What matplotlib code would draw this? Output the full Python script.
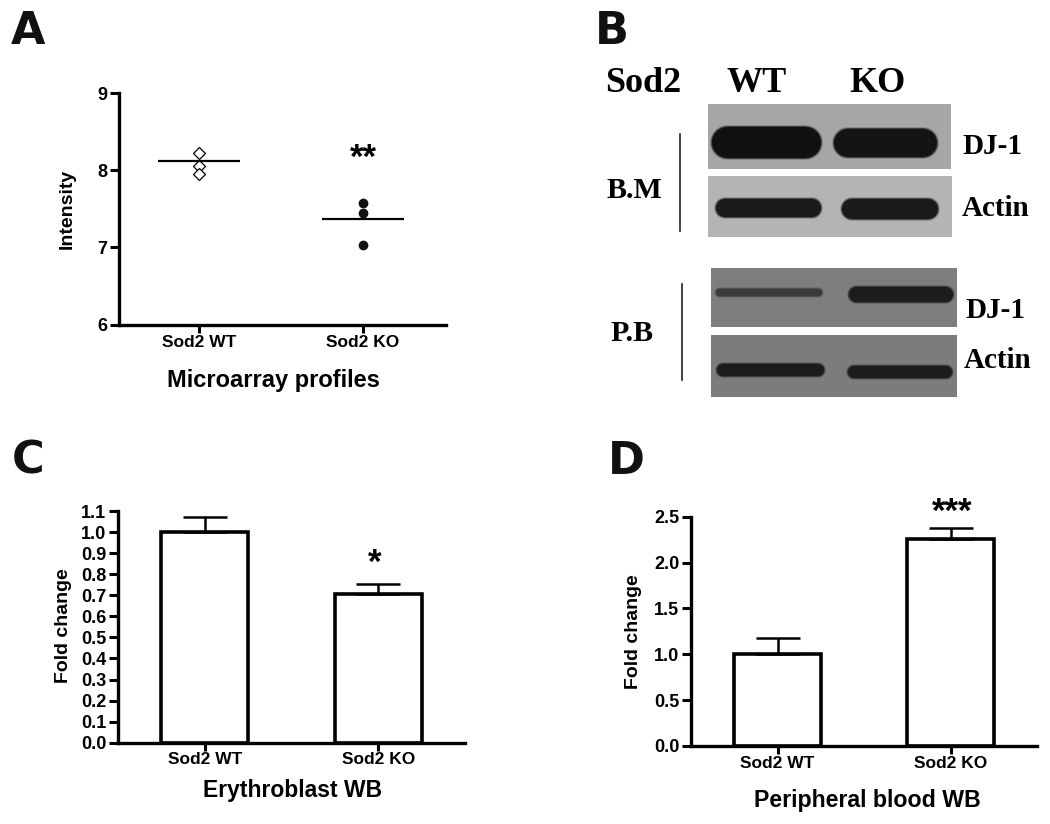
import matplotlib
matplotlib.use('Agg')
import matplotlib.pyplot as plt
from matplotlib.patches import Rectangle

W, H = 1050, 824

groups = ['Sod2 WT', 'Sod2 KO']

# panel A
wt_points = [8.22, 8.055, 7.95]
ko_points = [7.58, 7.45, 7.03]
array_means = [8.12, 7.37]
a_ticks = [6, 7, 8, 9]

# panel C
c_means = [1.0, 0.705]
c_err = [0.073, 0.047]
c_ticks = [0.0, 0.1, 0.2, 0.3, 0.4, 0.5, 0.6, 0.7, 0.8, 0.9, 1.0, 1.1]

# panel D
d_means = [1.0, 2.26]
d_err = [0.174, 0.115]
d_ticks = [0.0, 0.5, 1.0, 1.5, 2.0, 2.5]

# blots: (left, top, right, bottom, grey), bands: (left, top, right, bottom, grey)
blots = [
    (708, 104, 951, 169, '#a6a6a6', [(710, 125, 821, 158, '#111111'), (833, 128, 938, 158, '#141414')]),
    (708, 176, 952, 237, '#b4b4b4', [(715, 198, 822, 218, '#1a1a1a'), (841, 198, 939, 220, '#1a1a1a')]),
    (711, 268, 957, 327, '#7e7e7e', [(714, 287, 822, 296, '#3a3a3a'), (847, 285, 953, 302, '#1c1c1c')]),
    (711, 335, 957, 397, '#7c7c7c', [(716, 363, 825, 377, '#1c1c1c'), (847, 365, 953, 379, '#1c1c1c')]),
]

sans = 'Liberation Sans'
serif = 'Liberation Serif'
plt.rcParams['font.family'] = sans
plt.rcParams['font.weight'] = 'bold'

fig = plt.figure(figsize=(W / 100, H / 100), dpi=100)


def px_axes(left, top, right, bottom):
    return fig.add_axes([left / W, 1 - bottom / H, (right - left) / W, (bottom - top) / H])


def px_text(x, y, s, **kw):
    fig.text(x / W, 1 - y / H, s, ha='center', va='center', **kw)


def style(ax, yticks, ymax, pad, xlim=(-0.5, 1.5)):
    ax.set_xlim(*xlim)
    ax.set_ylim(yticks[0], ymax)
    ax.patch.set_visible(False)
    for s in ['top', 'right']:
        ax.spines[s].set_visible(False)
    for s in ['left', 'bottom']:
        ax.spines[s].set_linewidth(2.4)
    ax.set_xticks([0, 1])
    ax.set_xticklabels(groups)
    ax.set_yticks(yticks)
    ax.tick_params(axis='y', length=6.5, width=2.2, labelsize=13, pad=2)
    ax.tick_params(axis='x', length=5.5, width=2.2, labelsize=12.5, pad=pad)


# A
ax = px_axes(119, 93, 446, 324.5)
style(ax, a_ticks, 9, 2, xlim=(-0.488, 1.506))
ax.set_yticklabels([str(t) for t in a_ticks])
ax.plot([0] * 3, wt_points, 'D', mfc='white', mec='black', mew=0.9, ms=6.5, ls='none')
ax.plot([1] * 3, ko_points, 'o', color='#111111', ms=6, ls='none')
ax.hlines(array_means, [-0.25, 0.75], [0.25, 1.25], color='black', lw=1.6)
ax.text(1.0, 8.15, '**', ha='center', va='center', fontsize=25, color='black')
px_text(67, 209, 'Intensity', rotation=90, fontsize=14)
px_text(273, 380, 'Microarray profiles', fontsize=17)

# C
ax = px_axes(118, 511, 465, 742.7)
style(ax, c_ticks, 1.1, 1.5)
ax.set_yticklabels(['%.1f' % t for t in c_ticks])
ax.bar([0, 1], c_means, width=0.5, fc='white', ec='black', lw=2.6)
ax.errorbar([0, 1], c_means, yerr=[[0, 0], c_err], fmt='none', ecolor='black', elinewidth=1.8,
            capsize=15.5, capthick=1.8)
ax.text(0.98, 0.85, '*', ha='center', va='center', fontsize=25, color='black')
px_text(63, 626, 'Fold change', rotation=90, fontsize=14)
px_text(293, 790, 'Erythroblast WB', fontsize=16.5)

# D
ax = px_axes(691, 516.7, 1037, 746)
style(ax, d_ticks, 2.5, 2)
ax.set_yticklabels(['%.1f' % t for t in d_ticks])
ax.bar([0, 1], d_means, width=0.5, fc='white', ec='black', lw=2.6)
ax.errorbar([0, 1], d_means, yerr=[[0, 0], d_err], fmt='none', ecolor='black', elinewidth=1.8,
            capsize=15.5, capthick=1.8)
ax.text(1.01, 2.55, '***', ha='center', va='center', fontsize=25, color='black', clip_on=False)
px_text(633, 632, 'Fold change', rotation=90, fontsize=14)
px_text(867, 800, 'Peripheral blood WB', fontsize=16.7)

# B, pixel axes over the whole figure
bg = fig.add_axes([0, 0, 1, 1])
bg.set_xlim(0, W)
bg.set_ylim(H, 0)
bg.axis('off')
bg.patch.set_visible(False)
for left, top, right, bottom, grey, bands in blots:
    bg.add_patch(Rectangle((left, top), right - left, bottom - top, fc=grey, ec='none'))
    for x0, y0, x1, y1, col in bands:
        r = (y1 - y0) / 2
        bg.plot([x0 + r, x1 - r], [y0 + r, y0 + r], color=col, lw=(y1 - y0 + 2) * 0.72,
                solid_capstyle='round', alpha=0.2)
        bg.plot([x0 + r, x1 - r], [y0 + r, y0 + r], color=col, lw=(y1 - y0) * 0.72,
                solid_capstyle='round', alpha=0.6)
        bg.plot([x0 + r, x1 - r], [y0 + r, y0 + r], color=col, lw=(y1 - y0 - 2) * 0.72,
                solid_capstyle='round')
bg.plot([680, 680], [134, 231], color='#222222', lw=1.2)
bg.plot([682, 682], [284, 380], color='#222222', lw=1.2)

for x, y, s, size in [(643, 83, 'Sod2', 26), (757, 83, 'WT', 26), (878, 83, 'KO', 26),
                      (634, 190, 'B.M', 21.5), (632, 334, 'P.B', 21.5),
                      (992, 146, 'DJ-1', 21), (996, 209, 'Actin', 21),
                      (995, 310, 'DJ-1', 21), (998, 361, 'Actin', 21)]:
    px_text(x, y, s, family=serif, fontsize=size)

for x, y, s in [(28, 32, 'A'), (612, 32, 'B'), (28, 461, 'C'), (626, 462, 'D')]:
    px_text(x, y, s, family='DejaVu Sans', fontsize=32, color='#111111')

fig.savefig('out.png', dpi=100)
